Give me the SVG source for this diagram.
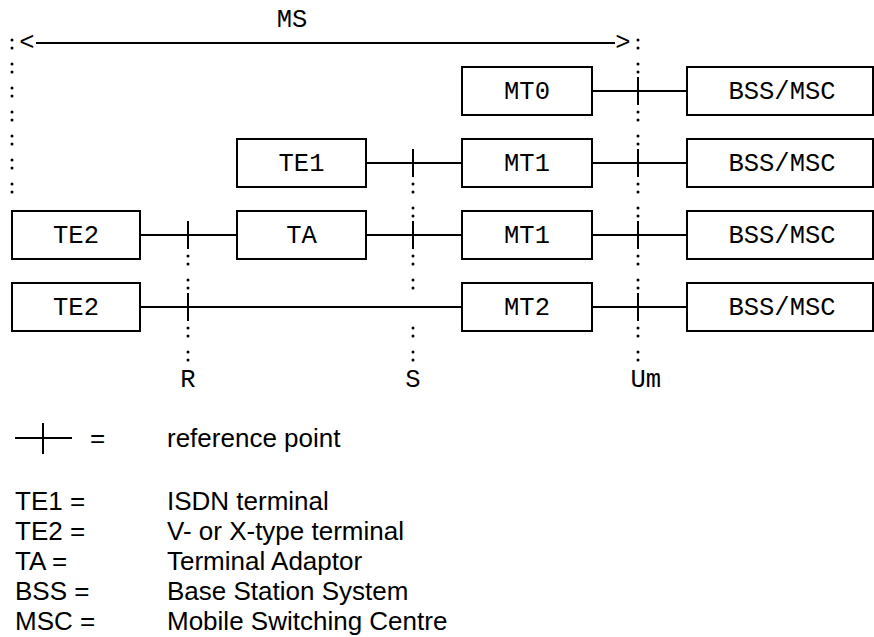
<svg xmlns="http://www.w3.org/2000/svg" width="874" height="637" viewBox="0 0 874 637">
<style>
.box{fill:#fff;stroke:#000;stroke-width:2}
.ln{stroke:#000;stroke-width:2;fill:none}
.mono{font-family:"Liberation Mono","Courier New",monospace;font-size:25.5px;fill:#000}
.sans{font-family:"Liberation Sans",Arial,sans-serif;font-size:26px;fill:#000}
.dot{fill:#000}
</style>
<defs>
<g id="colon"><circle cx="0" cy="-4" r="1.5" class="dot"/><circle cx="0" cy="4" r="1.5" class="dot"/></g>
<g id="tick"><line x1="0" y1="-14" x2="0" y2="14" class="ln"/></g>
</defs>

<g id="ms-span">
<text class="mono" x="292" y="27" text-anchor="middle">MS</text>
<text class="mono" x="27" y="50" text-anchor="middle">&lt;</text>
<line x1="36" y1="43" x2="615" y2="43" class="ln"/>
<text class="mono" x="623" y="50" text-anchor="middle">&gt;</text>
</g>

<g id="connectors">
<line x1="592" y1="91" x2="687" y2="91" class="ln"/>
<line x1="366" y1="163" x2="462" y2="163" class="ln"/>
<line x1="592" y1="163" x2="687" y2="163" class="ln"/>
<line x1="140" y1="235" x2="237" y2="235" class="ln"/>
<line x1="366" y1="235" x2="462" y2="235" class="ln"/>
<line x1="592" y1="235" x2="687" y2="235" class="ln"/>
<line x1="140" y1="307" x2="462" y2="307" class="ln"/>
<line x1="592" y1="307" x2="687" y2="307" class="ln"/>
</g>

<g id="ref-lines">
<g id="col-left">
<use href="#colon" x="12" y="44"/><use href="#colon" x="12" y="68"/><use href="#colon" x="12" y="92"/>
<use href="#colon" x="12" y="116"/><use href="#colon" x="12" y="140"/><use href="#colon" x="12" y="164"/>
<use href="#colon" x="12" y="188"/>
</g>
<g id="col-R">
<use href="#tick" x="188" y="235"/><use href="#tick" x="188" y="307"/>
<use href="#colon" x="188" y="260"/><use href="#colon" x="188" y="284"/>
<use href="#colon" x="188" y="332"/><use href="#colon" x="188" y="356"/>
<text class="mono" x="188" y="387" text-anchor="middle">R</text>
</g>
<g id="col-S">
<use href="#tick" x="413" y="163"/><use href="#tick" x="413" y="235"/>
<use href="#colon" x="413" y="188"/><use href="#colon" x="413" y="212"/>
<use href="#colon" x="413" y="260"/><use href="#colon" x="413" y="284"/>
<use href="#colon" x="413" y="332"/><use href="#colon" x="413" y="356"/>
<text class="mono" x="413" y="387" text-anchor="middle">S</text>
</g>
<g id="col-Um">
<use href="#colon" x="638" y="44"/><use href="#colon" x="638" y="68"/>
<use href="#tick" x="638" y="91"/>
<use href="#colon" x="638" y="116"/><use href="#colon" x="638" y="140"/>
<use href="#tick" x="638" y="163"/>
<use href="#colon" x="638" y="188"/><use href="#colon" x="638" y="212"/>
<use href="#tick" x="638" y="235"/>
<use href="#colon" x="638" y="260"/><use href="#colon" x="638" y="284"/>
<use href="#tick" x="638" y="307"/>
<use href="#colon" x="638" y="332"/><use href="#colon" x="638" y="356"/>
<text class="mono" x="630.5" y="387">Um</text>
</g>
</g>

<g id="MT0"><rect class="box" x="462" y="67" width="130" height="48"/><text class="mono" x="527" y="99" text-anchor="middle">MT0</text></g>
<g id="BSS1"><rect class="box" x="687" y="67" width="186" height="48"/><text class="mono" x="782" y="99" text-anchor="middle">BSS/MSC</text></g>

<g id="TE1"><rect class="box" x="237" y="139" width="129" height="48"/><text class="mono" x="301.5" y="171" text-anchor="middle">TE1</text></g>
<g id="MT1a"><rect class="box" x="462" y="139" width="130" height="48"/><text class="mono" x="527" y="171" text-anchor="middle">MT1</text></g>
<g id="BSS2"><rect class="box" x="687" y="139" width="186" height="48"/><text class="mono" x="782" y="171" text-anchor="middle">BSS/MSC</text></g>

<g id="TE2a"><rect class="box" x="12" y="211" width="128" height="48"/><text class="mono" x="76" y="243" text-anchor="middle">TE2</text></g>
<g id="TA"><rect class="box" x="237" y="211" width="129" height="48"/><text class="mono" x="301.5" y="243" text-anchor="middle">TA</text></g>
<g id="MT1b"><rect class="box" x="462" y="211" width="130" height="48"/><text class="mono" x="527" y="243" text-anchor="middle">MT1</text></g>
<g id="BSS3"><rect class="box" x="687" y="211" width="186" height="48"/><text class="mono" x="782" y="243" text-anchor="middle">BSS/MSC</text></g>

<g id="TE2b"><rect class="box" x="12" y="283" width="128" height="48"/><text class="mono" x="76" y="315" text-anchor="middle">TE2</text></g>
<g id="MT2"><rect class="box" x="462" y="283" width="130" height="48"/><text class="mono" x="527" y="315" text-anchor="middle">MT2</text></g>
<g id="BSS4"><rect class="box" x="687" y="283" width="186" height="48"/><text class="mono" x="782" y="315" text-anchor="middle">BSS/MSC</text></g>

<g id="legend">
<line x1="15" y1="438" x2="72" y2="438" class="ln"/>
<line x1="43" y1="423" x2="43" y2="454" class="ln"/>
<text class="sans" x="90" y="447">=</text>
<text class="sans" x="167" y="447">reference point</text>
<text class="sans" x="15" y="510">TE1 =</text><text class="sans" x="167" y="510">ISDN terminal</text>
<text class="sans" x="15" y="540">TE2 =</text><text class="sans" x="167" y="540">V- or X-type terminal</text>
<text class="sans" x="15" y="570">TA =</text><text class="sans" x="167" y="570">Terminal Adaptor</text>
<text class="sans" x="15" y="600">BSS =</text><text class="sans" x="167" y="600">Base Station System</text>
<text class="sans" x="15" y="630">MSC =</text><text class="sans" x="167" y="630">Mobile Switching Centre</text>
</g>
</svg>
